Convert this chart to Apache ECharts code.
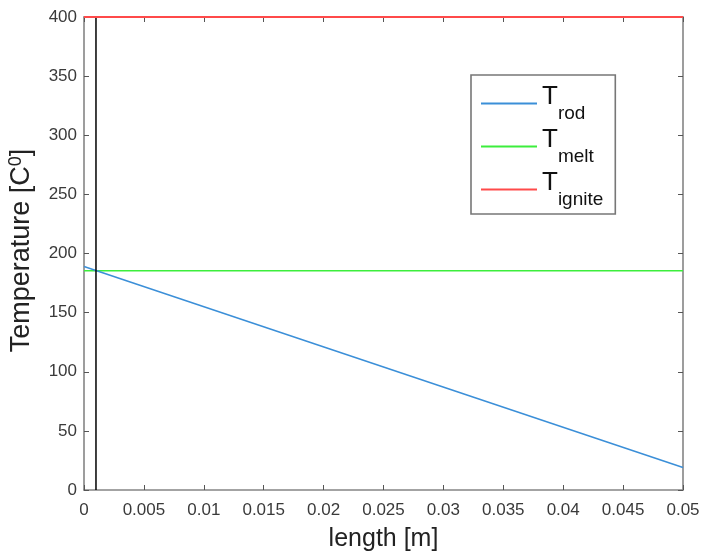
<!DOCTYPE html>
<html>
<head>
<meta charset="utf-8">
<script src="https://cdn.jsdelivr.net/npm/echarts@6/dist/echarts.min.js"></script>
<style>
  html, body { margin: 0; padding: 0; background: #fff; }
  #chart { width: 702px; height: 553px; }
</style>
</head>
<body>
<div id="chart"></div>
<script>
// data
var lengthM = [0, 0.05];
var tRod = [189, 19];
var tMelt = 185.5;
var tIgnite = 400;
var markerX = 0.001;
var seriesNames = ['T_rod', 'T_melt', 'T_ignite'];
var seriesColors = ['#3b8fd8', '#3cee3c', '#ff4a4a'];

var font = 'Liberation Sans, Arial, sans-serif';
var axisColor = '#858585';
var tickColor = '#555';
var labelStyle = { color: '#3a3a3a', fontSize: 17, fontFamily: font };

function pairs(xs, ys) {
	return xs.map(function (x, i) { return [x, ys[i]]; });
}

// mirrored box axes (top / right) without labels
function boxAxis(pos, min, max, step) {
	return {
		type: 'value',
		position: pos,
		min: min,
		max: max,
		interval: step,
		axisLine: { show: true, onZero: false, lineStyle: { color: axisColor, width: 1.6 } },
		axisTick: { show: true, inside: true, length: 5, lineStyle: { color: tickColor } },
		axisLabel: { show: false },
		splitLine: { show: false }
	};
}

var chart = echarts.init(document.getElementById('chart'));

var option = {
	backgroundColor: '#fff',
	animation: false,
	grid: { left: 84, right: 19, top: 17, bottom: 63, containLabel: false, outerBoundsMode: 'none' },
	legend: {
		orient: 'vertical',
		left: 471,
		top: 75,
		data: seriesNames,
		icon: 'rect',
		itemWidth: 56,
		itemHeight: 2,
		itemGap: 4,
		backgroundColor: '#fff',
		borderColor: '#777',
		borderWidth: 1.6,
		borderRadius: 0,
		padding: [9, 12, 5, 10],
		formatter: function (name) {
			var p = name.split('_');
			return '{t|' + p[0] + '}{s|' + p[1] + '}';
		},
		textStyle: {
			color: '#111',
			fontFamily: font,
			rich: {
				t: { fontSize: 26, lineHeight: 39, verticalAlign: 'top', fontFamily: font, color: '#111' },
				s: { fontSize: 19, lineHeight: 39, verticalAlign: 'bottom', fontFamily: font, color: '#111' }
			}
		}
	},
	xAxis: [{
		type: 'value',
		min: 0,
		max: 0.05,
		interval: 0.005,
		name: 'length [m]',
		nameLocation: 'middle',
		nameGap: 37,
		nameTextStyle: { color: '#222', fontSize: 25, fontFamily: font },
		axisLine: { onZero: false, lineStyle: { color: axisColor, width: 1.6 } },
		axisTick: { inside: true, length: 5, lineStyle: { color: tickColor } },
		axisLabel: Object.assign({ margin: 12, formatter: function (v) { return String(+v.toFixed(3)); } }, labelStyle),
		splitLine: { show: false }
	}, boxAxis('top', 0, 0.05, 0.005)],
	yAxis: [{
		type: 'value',
		min: 0,
		max: 400,
		interval: 50,
		name: 'Temperature [C{sup|0}]',
		nameLocation: 'middle',
		nameGap: 47,
		nameTextStyle: {
			color: '#222', fontSize: 27, fontFamily: font,
			padding: [0, 0, 0, 6],
			rich: {
				sup: { fontSize: 18, verticalAlign: 'top', lineHeight: 30, fontFamily: font, color: '#222' }
			}
		},
		axisLine: { show: true, onZero: false, lineStyle: { color: axisColor, width: 1.6 } },
		axisTick: { show: true, inside: true, length: 5, lineStyle: { color: tickColor } },
		axisLabel: Object.assign({ margin: 7 }, labelStyle),
		splitLine: { show: false }
	}, boxAxis('right', 0, 400, 50)],
	series: [{
		name: seriesNames[0],
		type: 'line',
		symbol: 'none',
		data: pairs(lengthM, tRod),
		lineStyle: { color: seriesColors[0], width: 1.5 },
		itemStyle: { color: seriesColors[0] },
		z: 3
	}, {
		name: seriesNames[1],
		type: 'line',
		symbol: 'none',
		data: pairs(lengthM, [tMelt, tMelt]),
		lineStyle: { color: seriesColors[1], width: 1.5 },
		itemStyle: { color: seriesColors[1] },
		z: 2
	}, {
		name: seriesNames[2],
		type: 'line',
		symbol: 'none',
		data: pairs(lengthM, [tIgnite, tIgnite]),
		lineStyle: { color: seriesColors[2], width: 2 },
		itemStyle: { color: seriesColors[2] },
		z: 4
	}, {
		name: 'marker',
		type: 'line',
		symbol: 'none',
		data: [[markerX, 0], [markerX, 400]],
		lineStyle: { color: '#000', width: 1.5 },
		itemStyle: { color: '#000' },
		z: 3
	}]
};

chart.setOption(option);
</script>
</body>
</html>
